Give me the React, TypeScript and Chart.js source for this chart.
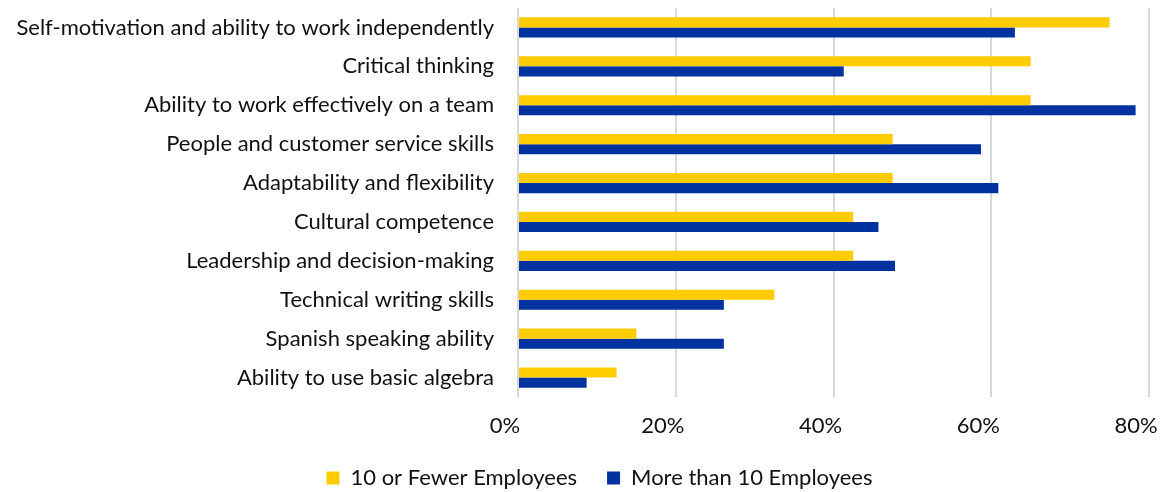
import React, { useEffect, useRef } from "react";
import { Chart, registerables } from "chart.js";

Chart.register(...registerables);

const categories = [
  "Self-motivation and ability to work independently",
  "Critical thinking",
  "Ability to work effectively on a team",
  "People and customer service skills",
  "Adaptability and flexibility",
  "Cultural competence",
  "Leadership and decision-making",
  "Technical writing skills",
  "Spanish speaking ability",
  "Ability to use basic algebra",
];

const fewerEmployees = [75, 65, 65, 47.5, 47.5, 42.5, 42.5, 32.5, 15, 12.5];
const moreEmployees = [63.0, 41.3, 78.3, 58.7, 60.9, 45.7, 47.8, 26.1, 26.1, 8.7];

const seriesNames = ["10 or Fewer Employees", "More than 10 Employees"];
const xTicks = [0, 20, 40, 60, 80];

const FONT = "Lato, 'Open Sans', sans-serif";
const TEXT = "#111";

const legendShift = {
  id: "legendShift",
  afterLayout(chart: any) {
    const l = chart.legend;
    if (l) {
      l.left += 25;
      l.right += 25;
    }
  },
};

export default function App() {
  const ref = useRef<HTMLCanvasElement | null>(null);

  useEffect(() => {
    if (!ref.current) return;
    const chart = new Chart(ref.current, {
      type: "bar",
      data: {
        labels: categories,
        datasets: [
          {
            label: seriesNames[0],
            data: fewerEmployees,
            backgroundColor: "#FFCC00",
            borderWidth: 0,
          },
          {
            label: seriesNames[1],
            data: moreEmployees,
            backgroundColor: "#0033A0",
            borderWidth: 0,
          },
        ],
      },
      plugins: [legendShift],
      options: {
        indexAxis: "y",
        animation: false,
        responsive: false,
        maintainAspectRatio: false,
        layout: { padding: { left: 0, top: 8, right: 12, bottom: -7 } },
        datasets: {
          bar: { categoryPercentage: 0.52, barPercentage: 1.0 },
        },
        scales: {
          x: {
            min: 0,
            max: 80,
            afterBuildTicks: (scale: any) => {
              scale.ticks = xTicks.map((v) => ({ value: v }));
            },
            afterFit: (scale: any) => {
              scale.height = 40;
              scale.paddingLeft = 0;
              scale.paddingRight = 0;
            },
            grid: {
              color: "#d9d9d9",
              lineWidth: 2,
              drawTicks: false,
            },
            border: { display: false },
            ticks: {
              padding: 16,
              labelOffset: -13,
              color: TEXT,
              font: { family: FONT, size: 22 },
              callback: (v: any) => `${v}%`,
            },
          },
          y: {
            grid: { display: false, drawTicks: true, tickLength: 24 },
            border: { display: false },
            afterFit: (scale: any) => {
              scale.width = 518;
              scale.paddingTop = 0;
              scale.paddingBottom = 0;
            },
            ticks: {
              padding: 0,
              color: TEXT,
              autoSkip: false,
              font: { family: FONT, size: 22 },
            },
          },
        },
        plugins: {
          legend: {
            position: "bottom",
            labels: {
              boxWidth: 13,
              boxHeight: 13,
              padding: 30,
              color: TEXT,
              font: { family: FONT, size: 22 },
            },
          },
          tooltip: { enabled: false },
        },
      },
    });
    return () => chart.destroy();
  }, []);

  return (
    <div style={{ position: "absolute", left: 0, top: 0, width: 1161, height: 492, background: "#fff" }}>
      <canvas ref={ref} width={1161} height={492} style={{ width: 1161, height: 492 }} />
    </div>
  );
}
